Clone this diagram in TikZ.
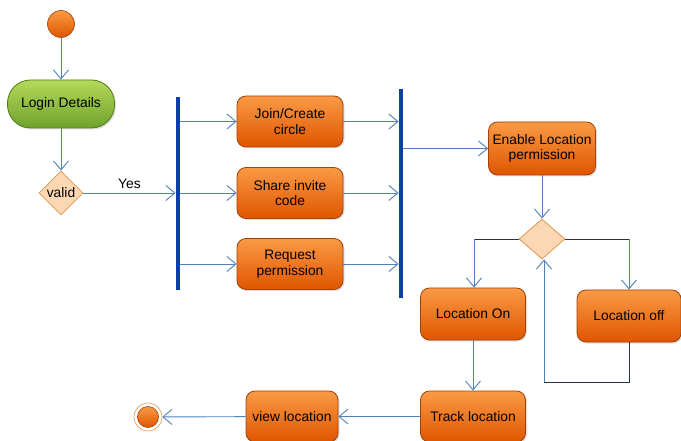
\documentclass[tikz,border=0pt]{standalone}
\usepackage{fontspec}
\setmainfont{Liberation Sans}
\usetikzlibrary{arrows.meta,shapes.geometric,shadows}
\definecolor{flowblue}{HTML}{4F81BD}
\definecolor{barblue}{HTML}{0B3FA8}
\definecolor{orborder}{HTML}{A0420A}
\definecolor{ortop}{HTML}{FA9A45}
\definecolor{orbot}{HTML}{E05500}
\definecolor{grtop}{HTML}{B5D95A}
\definecolor{grbot}{HTML}{6FA22A}
\definecolor{grborder}{HTML}{4F7A1C}
\definecolor{dmfill}{HTML}{FCD7B4}
\definecolor{dmborder}{HTML}{E2954E}
\definecolor{darkline}{HTML}{2B3340}
\tikzset{
  x=1pt,y=-1pt,
  txt/.style={font=\fontsize{13.8}{15.5}\selectfont, align=center, text=black},
  actbox/.style={txt, draw=orborder, line width=0.8pt, rounded corners=9pt, top color=ortop, bottom color=orbot, minimum width=106pt, minimum height=51pt, inner sep=1pt, drop shadow={shadow xshift=1.5pt, shadow yshift=-1.5pt, opacity=0.25}},
  greenbox/.style={txt, draw=grborder, line width=0.8pt, rounded corners=23pt, top color=grtop, bottom color=grbot, minimum width=107pt, minimum height=48pt, drop shadow={shadow xshift=1.5pt, shadow yshift=-1.5pt, opacity=0.25}},
  decision/.style={txt, diamond, draw=dmborder, line width=0.8pt, fill=dmfill, inner sep=0pt},
  flow/.style={draw=flowblue, line width=0.9pt, -{Straight Barb[length=9pt,width=15pt,line width=0.9pt]}},
  darkflow/.style={draw=darkline, line width=0.8pt},
  bar/.style={fill=barblue, draw=none, minimum width=4.5pt, inner sep=0pt},
  startdot/.style={circle, draw=orborder, line width=0.6pt, top color=ortop, bottom color=orbot, minimum size=27pt, inner sep=0pt}
}
\begin{document}
\begin{tikzpicture}
\useasboundingbox (0,0) rectangle (681,441);
% nodes
\node[startdot] (start) at (61,24) {};
\node[greenbox] (login) at (61,104) {Login Details};
\node[decision, minimum width=44pt, minimum height=44pt] (valid) at (61,193) {valid};
\node[bar, minimum height=193pt] (bar1) at (178,193.5) {};
\node[actbox] (join) at (290,121.5) {Join/Create\\circle};
\node[actbox] (share) at (290,193) {Share invite\\code};
\node[actbox] (req) at (290,264) {Request\\permission};
\node[bar, minimum height=209pt] (bar2) at (401,193.5) {};
\node[actbox, minimum width=107pt, minimum height=53pt] (enable) at (542,148.5) {Enable Location\\permission};
\node[decision, minimum width=46pt, minimum height=40pt] (dec) at (542,239) {};
\node[actbox, minimum width=105pt, minimum height=52pt] (on) at (473,314) {Location On};
\node[actbox, minimum width=104pt, minimum height=52pt] (off) at (629,316) {Location off};
\node[actbox, minimum width=105pt, minimum height=51pt] (track) at (473,416.5) {Track location};
\node[actbox, minimum width=92pt, minimum height=51pt] (view) at (292,416.5) {view location};
\node[circle, draw=dmborder, fill=white, line width=0.6pt, minimum size=28pt, inner sep=0pt] (endring) at (148,417) {};
\node[startdot, minimum size=21pt] (enddot) at (148,417) {};
\coordinate (lcorner) at (474,239);
\coordinate (rcorner) at (629,239);
\coordinate (offdown) at (629,382);
\coordinate (retcorner) at (544,382);
% connectors
\draw[flow] (start) -- (login);
\draw[flow] (login) -- (valid);
\draw[flow] (valid.east) -- node[above, txt, xshift=0pt, yshift=1pt] {Yes} (valid.east -| bar1.west);
\draw[flow] (join.west -| bar1.east) -- (join.west);
\draw[flow] (share.west -| bar1.east) -- (share.west);
\draw[flow] (req.west -| bar1.east) -- (req.west);
\draw[flow] (join.east) -- (join.east -| bar2.west);
\draw[flow] (share.east) -- (share.east -| bar2.west);
\draw[flow] (req.east) -- (req.east -| bar2.west);
\draw[flow] (enable.west -| bar2.east) -- (enable.west);
\draw[flow] (enable) -- (dec);
\draw[darkflow] (dec.west) -- (lcorner);
\draw[flow] (lcorner) -- (on.north -| lcorner);
\draw[darkflow] (dec.east) -- (rcorner);
\draw[flow] (rcorner) -- (off.north);
\draw[darkflow] (off.south) -- (offdown) -- (retcorner);
\draw[flow] (retcorner) -- (retcorner |- dec.south);
\draw[flow] (on) -- (track);
\draw[flow] (track) -- (view);
\draw[flow] (view) -- (endring);
\end{tikzpicture}
\end{document}
